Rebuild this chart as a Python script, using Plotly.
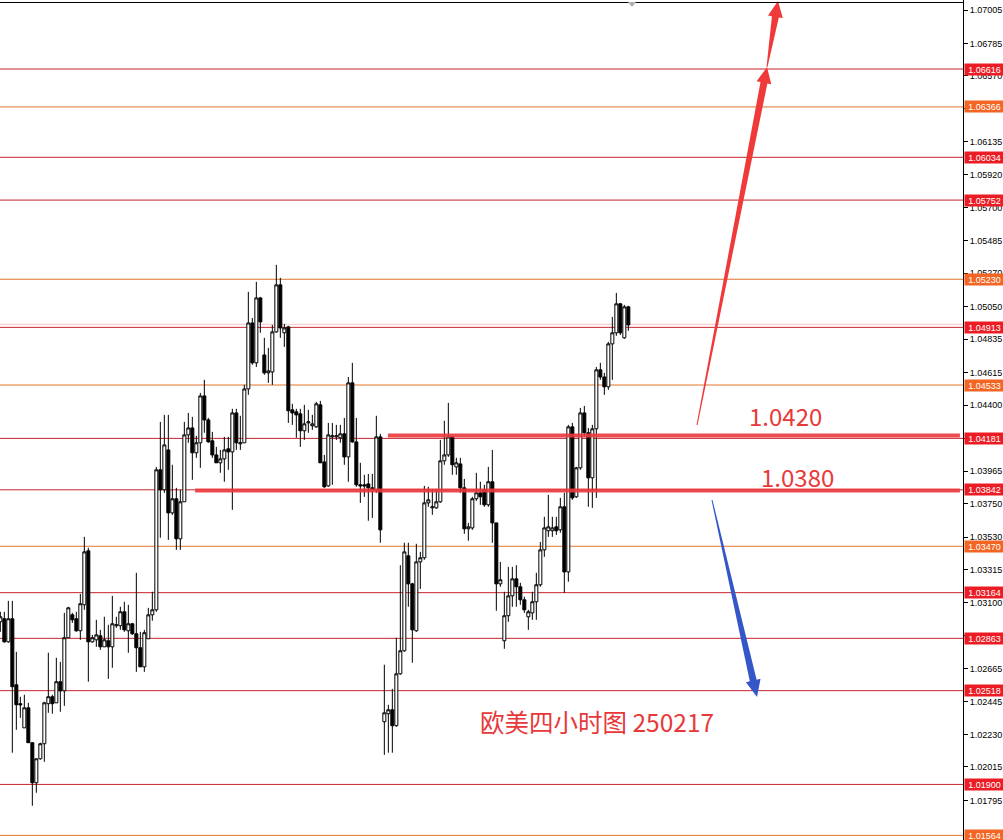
import plotly.graph_objects as go
import math

# ---------------- data (EURUSD H4) ----------------
opens = [1.02972,1.02992,1.02840,1.02992,1.02557,1.02432,1.02273,1.02405,1.02175,1.01911,
         1.02069,1.02168,1.02432,1.02478,1.02438,1.02577,1.02517,1.02867,1.03018,1.02992,
         1.02913,1.03084,1.03440,1.02840,1.02853,1.02880,1.02807,1.02847,1.02807,1.02946,
         1.02946,1.03038,1.02913,1.02959,1.02893,1.02801,1.02675,1.02860,1.03018,1.03051,
         1.03974,1.03842,1.04105,1.03690,1.03783,1.03519,1.03763,1.04204,1.04250,1.04086,
         1.04152,1.04461,1.04303,1.04165,1.04072,1.04020,1.04046,1.04112,1.04092,1.04349,
         1.04145,1.04152,1.04507,1.04942,1.04679,1.05107,1.04731,1.04613,1.04619,1.04883,
         1.05193,1.04877,1.04916,1.04369,1.04356,1.04343,1.04231,1.04283,1.04264,1.04257,
         1.04402,1.04026,1.03868,1.04191,1.04191,1.04185,1.04211,1.04059,1.04547,1.04158,
         1.03875,1.03875,1.03881,1.03855,1.03842,1.04191,1.02313,1.02366,1.02392,1.02287,
         1.02629,1.02781,1.03407,1.03222,1.02913,1.03367,1.03394,1.03756,1.03723,1.03723,
         1.03763,1.04033,1.04072,1.04191,1.03993,1.04013,1.03855,1.03585,1.03591,1.03783,
         1.03822,1.03842,1.03743,1.03895,1.03624,1.03222,1.02847,1.03012,1.03143,1.03255,
         1.03203,1.03117,1.03005,1.03031,1.03104,1.03216,1.03446,1.03572,1.03572,1.03598,
         1.03578,1.03730,1.03301,1.04257,1.03796,1.03987,1.04349,1.04218,1.03921,1.04244,
         1.04633,1.04586,1.04521,1.04804,1.04877,1.05068,1.04844,1.05048]
highs = [1.03038,1.03038,1.03110,1.03110,1.02774,1.02478,1.02491,1.02438,1.02175,1.02069,
         1.02175,1.02445,1.02768,1.02491,1.02735,1.02708,1.03031,1.03071,1.03031,1.03038,
         1.03156,1.03532,1.03460,1.02886,1.02985,1.02919,1.03005,1.02952,1.03143,1.03005,
         1.03071,1.03104,1.03084,1.02965,1.03295,1.02906,1.02919,1.03064,1.03170,1.03993,
         1.04290,1.04336,1.04336,1.04007,1.03855,1.03842,1.04290,1.04349,1.04323,1.04198,
         1.04481,1.04567,1.04316,1.04224,1.04125,1.04105,1.04191,1.04191,1.04376,1.04376,
         1.04330,1.04534,1.05147,1.04975,1.05213,1.05114,1.04844,1.04778,1.04929,1.05325,
         1.05239,1.04936,1.04923,1.04409,1.04376,1.04376,1.04402,1.04369,1.04336,1.04422,
         1.04428,1.04072,1.04283,1.04283,1.04270,1.04270,1.04316,1.04586,1.04679,1.04316,
         1.04020,1.03941,1.03947,1.03947,1.04330,1.04211,1.02689,1.02425,1.02530,1.02867,
         1.03345,1.03493,1.03493,1.03229,1.03486,1.03433,1.03868,1.03862,1.03848,1.03848,
         1.04171,1.04297,1.04415,1.04198,1.04053,1.04053,1.03914,1.03624,1.03796,1.03954,
         1.03895,1.03875,1.03993,1.04105,1.03624,1.03367,1.03170,1.03334,1.03334,1.03345,
         1.03229,1.03137,1.03051,1.03170,1.03295,1.03499,1.03664,1.03809,1.03664,1.03664,
         1.03789,1.03822,1.04270,1.04283,1.03993,1.04382,1.04395,1.04250,1.04270,1.04652,
         1.04679,1.04613,1.04817,1.04982,1.05140,1.05074,1.05061,1.05055]
lows = [1.02906,1.02834,1.02834,1.02109,1.02260,1.02339,1.02273,1.02175,1.01759,1.01845,
        1.02063,1.02049,1.02372,1.02366,1.02438,1.02379,1.02418,1.02867,1.02965,1.02906,
        1.02853,1.03051,1.02577,1.02834,1.02807,1.02787,1.02807,1.02596,1.02669,1.02932,
        1.02919,1.02906,1.02768,1.02886,1.02642,1.02675,1.02642,1.02860,1.02979,1.03038,
        1.03526,1.03822,1.03512,1.03677,1.03446,1.03446,1.03763,1.04152,1.03908,1.04053,
        1.03987,1.04218,1.04152,1.04053,1.04020,1.03954,1.03895,1.03974,1.03710,1.04105,
        1.04105,1.04152,1.04468,1.04666,1.04652,1.04877,1.04600,1.04547,1.04534,1.04877,
        1.04844,1.04784,1.04283,1.04270,1.04185,1.04125,1.04171,1.04218,1.04237,1.04250,
        1.04020,1.03855,1.03862,1.03875,1.04171,1.04152,1.04007,1.03895,1.04152,1.03862,
        1.03756,1.03796,1.03638,1.03657,1.03822,1.03493,1.02095,1.02109,1.02109,1.02280,
        1.02623,1.02774,1.03071,1.02702,1.02906,1.03189,1.03381,1.03730,1.03677,1.03717,
        1.03756,1.04007,1.04059,1.03941,1.03941,1.03822,1.03552,1.03506,1.03578,1.03769,
        1.03743,1.03730,1.03730,1.03493,1.03045,1.03203,1.02794,1.02972,1.03071,1.03071,
        1.03084,1.03031,1.02919,1.02985,1.02985,1.03203,1.03400,1.03532,1.03532,1.03545,
        1.03559,1.03163,1.03236,1.03776,1.03789,1.03974,1.04191,1.03730,1.03723,1.03789,
        1.04567,1.04468,1.04501,1.04567,1.04857,1.04863,1.04837,1.04890]
closes = [1.03005,1.02840,1.02992,1.02544,1.02425,1.02425,1.02405,1.02175,1.01911,1.02069,
          1.02168,1.02438,1.02478,1.02432,1.02577,1.02517,1.02867,1.03064,1.02985,1.02913,
          1.03091,1.03433,1.02840,1.02867,1.02886,1.02807,1.02853,1.02807,1.02959,1.02952,
          1.03038,1.02919,1.02959,1.02893,1.02801,1.02675,1.02900,1.03018,1.03051,1.03974,
          1.03842,1.04138,1.03690,1.03783,1.03519,1.03763,1.04204,1.04250,1.04086,1.04152,
          1.04461,1.04303,1.04158,1.04072,1.04020,1.04046,1.04105,1.04092,1.04349,1.04152,
          1.04152,1.04507,1.04942,1.04679,1.05107,1.04949,1.04613,1.04626,1.04883,1.05193,
          1.04909,1.04909,1.04363,1.04349,1.04336,1.04231,1.04277,1.04290,1.04277,1.04409,
          1.04020,1.03862,1.04204,1.04198,1.04198,1.04211,1.04059,1.04547,1.04158,1.03875,
          1.03868,1.03868,1.03855,1.03848,1.04191,1.03578,1.02372,1.02392,1.02287,1.02629,
          1.02781,1.03433,1.03222,1.02919,1.03367,1.03394,1.03756,1.03776,1.03730,1.03763,
          1.04033,1.04072,1.04191,1.04007,1.04020,1.03855,1.03585,1.03598,1.03783,1.03822,
          1.03796,1.03743,1.03895,1.03624,1.03222,1.03249,1.03012,1.03143,1.03255,1.03203,
          1.03117,1.03051,1.03038,1.03104,1.03216,1.03446,1.03591,1.03598,1.03591,1.03572,
          1.03730,1.03301,1.04257,1.03789,1.03987,1.04349,1.04218,1.03921,1.04244,1.04633,
          1.04586,1.04521,1.04804,1.04877,1.05068,1.04877,1.05048,1.04929]
bars = list(range(len(opens)))

level_prices = [1.06616, 1.06366, 1.06034, 1.05752, 1.05230, 1.04913, 1.04533, 1.04181,
                1.03842, 1.03470, 1.03164, 1.02863, 1.02518, 1.01900, 1.01564]
level_kinds = ['r', 'o', 'r', 'r', 'o', 'r', 'o', 'r', 'r', 'o', 'r', 'r', 'r', 'r', 'o']
pale_level = 1.04933

tick_vals = [1.07005, 1.06785, 1.06570, 1.06355, 1.06135, 1.05920, 1.05700, 1.05485,
             1.05270, 1.05050, 1.04835, 1.04615, 1.04400, 1.04180, 1.03965, 1.03750,
             1.03530, 1.03315, 1.03100, 1.02880, 1.02665, 1.02445, 1.02230, 1.02015, 1.01795]

# drawn key levels: (price, start bar, end bar)
key_lines = [(1.04200, 96.9, 239.9), (1.03838, 48.7, 239.9)]
key_texts = [("1.0420", 196.2, 1.04335), ("1.0380", 199.2, 1.03927)]
title_text = ("欧美四小时图 250217", 149.2, 1.02312)

# arrows: (tail bar, tail price, tip bar, tip price)
red_arrows = [(174.17, 1.04269, 191.67, 1.06629), (191.67, 1.06629, 194.42, 1.07064)]
blue_arrow = (177.92, 1.03775, 189.17, 1.02476)

# ---------------- layout constants ----------------
W, H = 1003, 840
PW, PH = 963, 840
XMIN, XMAX = -0.0825, -0.0825 + PW / 4.0
YMIN, YMAX = 1.015336, 1.070709

RED_LINE, ORANGE_LINE = '#c8232c', '#e2742a'
RED_LAB, ORANGE_LAB = '#ec1c24', '#f26522'
TXT_RED = '#e8383a'

fig = go.Figure()
fig.add_trace(go.Candlestick(
    x=bars, open=opens, high=highs, low=lows, close=closes,
    increasing=dict(line=dict(color='black', width=1), fillcolor='white'),
    decreasing=dict(line=dict(color='black', width=1), fillcolor='black'),
    whiskerwidth=0, showlegend=False, hoverinfo='skip'))

shapes = []
for p, k in zip(level_prices, level_kinds):
    shapes.append(dict(type='line', xref='paper', x0=0, x1=1, yref='y', y0=p, y1=p,
                       line=dict(color=RED_LINE if k == 'r' else ORANGE_LINE, width=1),
                       layer='below'))
shapes.append(dict(type='line', xref='paper', x0=0, x1=1, yref='y', y0=pale_level, y1=pale_level,
                   line=dict(color='#f3c4c4', width=1), layer='below'))
for p, x0, x1 in key_lines:
    shapes.append(dict(type='line', xref='x', x0=x0, x1=x1, yref='y', y0=p, y1=p,
                       line=dict(color='rgba(234,56,60,0.9)', width=4)))


def to_px(xi, price):
    return ((xi - XMIN) / (XMAX - XMIN) * PW, (YMAX - price) / (YMAX - YMIN) * PH)


def arrow_path(tail, tip, head_len, head_hw, shaft_hw, tail_hw=0.5):
    tx, ty = to_px(*tail)
    px, py = to_px(*tip)
    dx, dy = px - tx, py - ty
    ln = math.hypot(dx, dy)
    ux, uy = dx / ln, dy / ln
    nx, ny = -uy, ux
    bx, by = px - ux * head_len, py - uy * head_len
    pts = [(tx + nx * tail_hw, ty + ny * tail_hw), (bx + nx * shaft_hw, by + ny * shaft_hw),
           (bx + nx * head_hw, by + ny * head_hw), (px, py),
           (bx - nx * head_hw, by - ny * head_hw), (bx - nx * shaft_hw, by - ny * shaft_hw),
           (tx - nx * tail_hw, ty - ny * tail_hw)]
    s = ''
    for i, (x, y) in enumerate(pts):
        s += ('M' if i == 0 else 'L') + f'{x / PW:.5f},{1 - y / PH:.5f} '
    return s + 'Z'


for a in red_arrows:
    shapes.append(dict(type='path', xref='paper', yref='paper',
                       path=arrow_path((a[0], a[1]), (a[2], a[3]), 16, 7.5, 3.5),
                       fillcolor='#f03a3a', line=dict(width=0)))
shapes.append(dict(type='path', xref='paper', yref='paper',
                   path=arrow_path((blue_arrow[0], blue_arrow[1]), (blue_arrow[2], blue_arrow[3]), 17, 7.5, 3.5),
                   fillcolor='#3456c8', line=dict(width=0)))
shapes.append(dict(type='line', xref='paper', yref='paper', x0=0, x1=1, y0=1 - 2.5 / PH, y1=1 - 2.5 / PH,
                   line=dict(color='black', width=1)))
mx = 632 / PW
shapes.append(dict(type='path', xref='paper', yref='paper',
                   path=f'M{mx - 4 / PW},{1 - 2 / PH} L{mx + 4 / PW},{1 - 2 / PH} L{mx},{1 - 7 / PH} Z',
                   fillcolor='#b0b0b0', line=dict(width=0)))

annotations = []
for p, k in zip(level_prices, level_kinds):
    annotations.append(dict(xref='paper', x=1, xanchor='left', xshift=1, yref='y', y=p,
                            yanchor='middle', text=f'{p:.5f}', showarrow=False,
                            font=dict(family='Liberation Sans', size=9, color='white'),
                            bgcolor=RED_LAB if k == 'r' else ORANGE_LAB,
                            borderpad=1, width=37, height=9, align='center'))
for t, xi, p in key_texts:
    annotations.append(dict(xref='x', x=xi, yref='y', y=p, text=t, showarrow=False,
                            font=dict(family='Noto Sans CJK SC', size=24, color=TXT_RED)))
annotations.append(dict(xref='x', x=title_text[1], yref='y', y=title_text[2], text=title_text[0],
                        showarrow=False, font=dict(family='Noto Sans CJK SC', size=24.5, color=TXT_RED)))

fig.update_layout(
    width=W, height=H, margin=dict(l=0, r=W - PW, t=0, b=0, autoexpand=False),
    paper_bgcolor='white', plot_bgcolor='white', showlegend=False,
    boxgap=0.25, boxgroupgap=0,
    shapes=shapes, annotations=annotations,
    xaxis=dict(range=[XMIN, XMAX], visible=False, rangeslider=dict(visible=False),
               showgrid=False, zeroline=False, fixedrange=True),
    yaxis=dict(range=[YMIN, YMAX], side='right', showgrid=False, zeroline=False,
               showline=True, linecolor='black', linewidth=1, mirror=False,
               ticks='outside', ticklen=4, tickcolor='black', automargin=False,
               tickvals=tick_vals, ticktext=[f'{v:.5f}' for v in tick_vals],
               tickfont=dict(family='Liberation Sans', size=9, color='black'),
               fixedrange=True),
)

fig.write_html('out.html', config={'displayModeBar': False},
               post_script="document.body.style.margin='0';document.body.style.overflow='hidden';")
